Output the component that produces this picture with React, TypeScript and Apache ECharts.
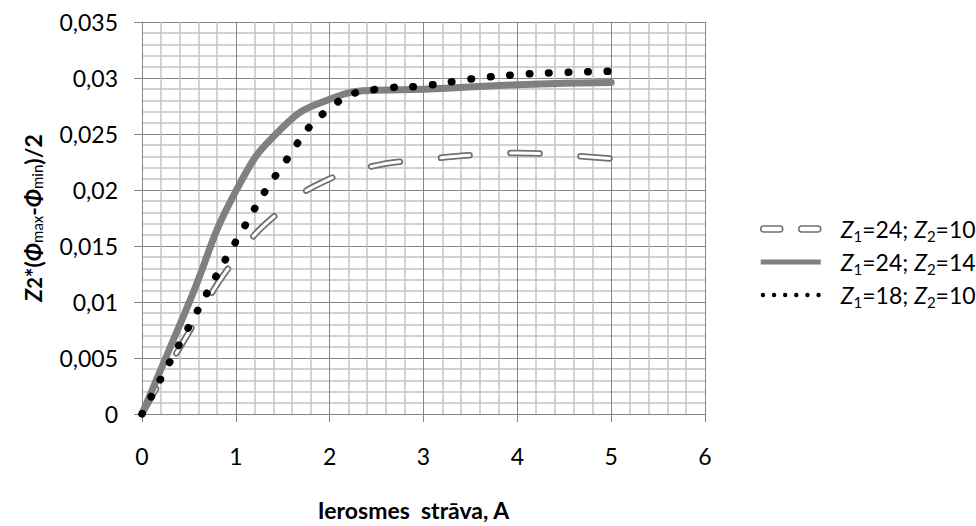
import React, { useEffect, useRef } from "react";
import * as echarts from "echarts";

// Z1=24; Z2=10 (outlined dashes)
const xA = [0, 0.5, 1, 1.5, 2, 2.5, 3, 3.5, 4, 4.5, 5];
const yA = [0, 0.0073, 0.0139, 0.0183, 0.021, 0.0222, 0.0227, 0.0231, 0.0233, 0.0231, 0.0228];

// Z1=24; Z2=14 (thick solid gray)
const xB = [0, 0.5, 1, 1.5, 2, 2.5, 3, 4, 5];
const yB = [0, 0.0099, 0.0199, 0.0256, 0.0281, 0.0289, 0.029, 0.0294, 0.0296];

// Z1=18; Z2=10 (black round dots)
const xC = [0, 0.5, 1, 1.5, 2, 2.5, 3, 3.5, 4, 4.5, 5];
const yC = [0, 0.0078, 0.0154, 0.0222, 0.0273, 0.029, 0.0293, 0.0299, 0.0303, 0.0305, 0.0306];

const seriesNames = ["Z1=24; Z2=10", "Z1=24; Z2=14", "Z1=18; Z2=10"];
const legendLabels = [
  "{i|Z}{s|1}=24; {i|Z}{s|2}=10",
  "{i|Z}{s|1}=24; {i|Z}{s|2}=14",
  "{i|Z}{s|1}=18; {i|Z}{s|2}=10",
];
const xTitle = "Ierosmes  strāva, A";
const yTitle = "{zi|Z}{z2|2}{b|*(}{fi|Φ}{sub|max}{b|-}{fi|Φ}{sub|min}{b|)/2}";

const FONT = "Lato, 'Noto Sans', 'DejaVu Sans', sans-serif";

const pairs = (xs: number[], ys: number[]) => xs.map((x, i) => [x, ys[i]]);

const dashIcon =
  "path://M3 0 H19 A3 3 0 0 1 19 6 H3 A3 3 0 0 1 3 0 Z M41 0 H57 A3 3 0 0 1 57 6 H41 A3 3 0 0 1 41 0 Z";
const solidIcon = "path://M0 0 H60 V5 H0 Z";
const dotIcon = (() => {
  const r = 2.2;
  let d = "path://";
  for (let i = 0; i < 6; i++) {
    const cx = r + i * ((60 - 2 * r) / 5);
    d += `M${cx - r} ${r} A${r} ${r} 0 1 0 ${cx + r} ${r} A${r} ${r} 0 1 0 ${cx - r} ${r} Z `;
  }
  return d;
})();

export default function App() {
  const ref = useRef<HTMLDivElement>(null);
  useEffect(() => {
    if (!ref.current) return;
    const chart = echarts.init(ref.current, undefined, { renderer: "svg" });
    const fmt = (v: number) => String(v).replace(".", ",");
    const labelMap: Record<string, string> = {};
    seriesNames.forEach((n, i) => (labelMap[n] = legendLabels[i]));
    const dashPattern = [29, 41];
    const common = { type: "line", smooth: 0.5, showSymbol: false, symbol: "none" };
    chart.setOption({
      animation: false,
      backgroundColor: "#ffffff",
      grid: { left: 142, right: 271, top: 22, bottom: 104, containLabel: false },
      legend: {
        orient: "vertical",
        left: 755,
        top: 210,
        itemWidth: 60,
        itemHeight: 14,
        itemGap: 5,
        selectedMode: false,
        data: [
          { name: seriesNames[0], icon: dashIcon, itemStyle: { color: "#ffffff", borderColor: "#707070", borderWidth: 1.5 } },
          { name: seriesNames[1], icon: solidIcon, itemStyle: { color: "#808080", borderWidth: 0 } },
          { name: seriesNames[2], icon: dotIcon, itemStyle: { color: "#000000", borderWidth: 0 } },
        ],
        formatter: (name: string) => labelMap[name] || name,
        textStyle: {
          fontFamily: FONT,
          fontSize: 23,
          color: "#000",
          padding: [0, 0, 0, 15],
          lineHeight: 28,
          rich: {
            i: { fontFamily: FONT, fontSize: 23, fontStyle: "italic", color: "#000", lineHeight: 28 },
            s: { fontFamily: FONT, fontSize: 15, color: "#000", verticalAlign: "bottom" },
          },
        },
      },
      xAxis: {
        type: "value",
        min: 0,
        max: 6,
        interval: 1,
        name: xTitle,
        nameLocation: "middle",
        nameGap: 84,
        nameTextStyle: { fontFamily: FONT, fontSize: 23, fontWeight: "bold", color: "#000", padding: [0, 20, 0, 0] },
        axisLine: { show: true, lineStyle: { color: "#868686", width: 1 } },
        axisTick: { show: true, length: 8, lineStyle: { color: "#868686" } },
        axisLabel: { fontFamily: FONT, fontSize: 23, color: "#000", margin: 30 },
        splitLine: { show: true, lineStyle: { color: "#868686", width: 1 } },
        minorTick: { show: false, splitNumber: 5 },
        minorSplitLine: { show: true, lineStyle: { color: "#c4c4c4", width: 1.5 } },
      },
      yAxis: {
        type: "value",
        min: 0,
        max: 0.035,
        interval: 0.005,
        name: yTitle,
        nameLocation: "middle",
        nameGap: 98,
        nameRotate: 90,
        nameTextStyle: {
          fontFamily: FONT,
          fontSize: 23,
          fontWeight: "bold",
          color: "#000",
          rich: {
            zi: { fontFamily: FONT, fontSize: 23, fontWeight: "bold", fontStyle: "italic", color: "#000" },
            z2: { fontFamily: FONT, fontSize: 20, fontWeight: "bold", color: "#000", verticalAlign: "bottom" },
            b: { fontFamily: FONT, fontSize: 23, fontWeight: "bold", color: "#000" },
            fi: { fontFamily: FONT, fontSize: 23, fontWeight: "bold", fontStyle: "italic", color: "#000" },
            sub: { fontFamily: FONT, fontSize: 15, fontWeight: "normal", color: "#000", verticalAlign: "bottom" },
          },
        },
        axisLine: { show: true, lineStyle: { color: "#868686", width: 1 } },
        axisTick: { show: true, length: 8, lineStyle: { color: "#868686" } },
        axisLabel: { fontFamily: FONT, fontSize: 23, color: "#000", margin: 24, formatter: fmt },
        splitLine: { show: true, lineStyle: { color: "#868686", width: 1 } },
        minorTick: { show: false, splitNumber: 5 },
        minorSplitLine: { show: true, lineStyle: { color: "#c4c4c4", width: 1.5 } },
      },
      series: [
        {
          ...common,
          name: seriesNames[0],
          data: pairs(xA, yA),
          lineStyle: { color: "#707070", width: 6.5, type: dashPattern, cap: "round", join: "round" },
          itemStyle: { color: "#707070" },
          z: 2,
        },
        {
          ...common,
          name: "_inner",
          data: pairs(xA, yA),
          lineStyle: { color: "#ffffff", width: 3, type: dashPattern, cap: "round", join: "round" },
          itemStyle: { color: "#ffffff" },
          z: 3,
        },
        {
          ...common,
          name: seriesNames[1],
          data: pairs(xB, yB),
          lineStyle: { color: "#808080", width: 7, cap: "round", join: "round" },
          itemStyle: { color: "#808080" },
          z: 4,
        },
        {
          ...common,
          name: seriesNames[2],
          data: pairs(xC, yC),
          lineStyle: { color: "#000000", width: 7.5, type: [0.5, 19], cap: "round", join: "round" },
          itemStyle: { color: "#000000" },
          z: 5,
        },
      ],
    });
    return () => chart.dispose();
  }, []);
  return (
    <div
      ref={ref}
      style={{ position: "fixed", left: 0, top: 0, width: 976, height: 526, background: "#fff" }}
    />
  );
}
